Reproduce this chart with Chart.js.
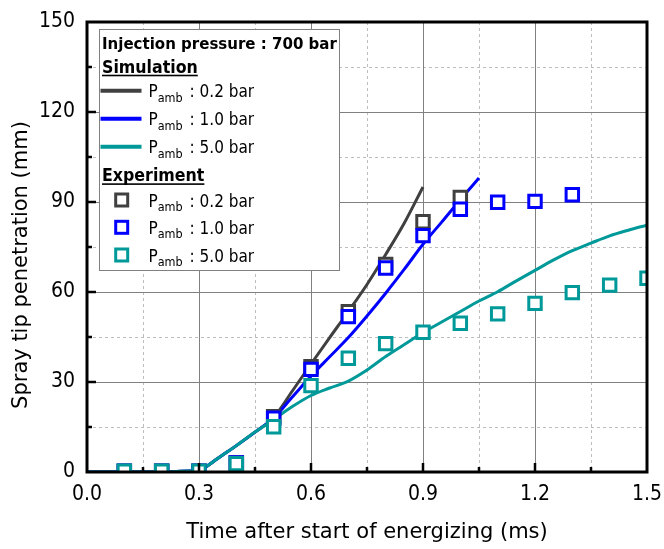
<!DOCTYPE html>
<html><head><meta charset="utf-8">
<script src="https://cdn.jsdelivr.net/npm/chart.js@4/dist/chart.umd.min.js"></script>
<style>html,body{margin:0;padding:0;background:#fff}</style>
</head><body>
<canvas id="c" width="664" height="549"></canvas>
<script>
// ---- data ----
const xTicks = [0, 0.3, 0.6, 0.9, 1.2, 1.5];
const yTicks = [0, 30, 60, 90, 120, 150];
const pressures = ['0.2', '1.0', '5.0'];
const seriesColors = ['#404040', '#0000ff', '#009999'];
const legendTitle = 'Injection pressure : 700 bar';
const groupSim = 'Simulation';
const groupExp = 'Experiment';
const xTitle = 'Time after start of energizing (ms)';
const yTitle = 'Spray tip penetration (mm)';

const sim02X = [0, 0.1, 0.2, 0.28, 0.3, 0.32, 0.35, 0.4, 0.45, 0.5, 0.55, 0.6, 0.65, 0.7, 0.75, 0.8, 0.85, 0.9];
const sim02Y = [0, 0, 0, 0.3, 0.3, 1.8, 4.5, 8.8, 13.3, 18.2, 27, 36, 44.8, 53.5, 62.5, 72.5, 83, 95];
const sim10X = [0, 0.1, 0.2, 0.28, 0.3, 0.32, 0.35, 0.4, 0.45, 0.5, 0.55, 0.6, 0.65, 0.7, 0.75, 0.8, 0.85, 0.9, 0.95, 1.0, 1.05];
const sim10Y = [0, 0, 0, 0.3, 0.3, 1.8, 4.5, 8.8, 13.3, 18, 25, 32, 38.4, 44.8, 52, 59.6, 67.6, 75.9, 83.3, 90.8, 98];
const sim50X = [0, 0.1, 0.2, 0.28, 0.3, 0.32, 0.35, 0.4, 0.45, 0.5, 0.55, 0.6, 0.65, 0.7, 0.75, 0.8, 0.85, 0.9, 0.95, 1.0, 1.05, 1.1, 1.15, 1.2, 1.25, 1.3, 1.35, 1.4, 1.45, 1.5];
const sim50Y = [0, 0, 0, 0.3, 0.3, 1.8, 4.5, 8.8, 13.3, 17.5, 21.8, 25.5, 28, 30.3, 34, 38.5, 42.5, 46.5, 50, 53.5, 57, 60.1, 63.7, 67.2, 70.7, 73.8, 76.3, 78.7, 80.6, 82.3];

const exp02X = [0.1, 0.2, 0.3, 0.4, 0.5, 0.6, 0.7, 0.8, 0.9, 1.0];
const exp02Y = [0.3, 0.3, 0.3, 3, 18.4, 35.1, 53.4, 69.2, 83.4, 91.5];
const exp10X = [0.1, 0.2, 0.3, 0.4, 0.5, 0.6, 0.7, 0.8, 0.9, 1.0, 1.1, 1.2, 1.3];
const exp10Y = [0.3, 0.3, 0.3, 3, 17.9, 34.2, 51.8, 68, 78.8, 87.6, 89.9, 90.2, 92.4];
const exp50X = [0.1, 0.2, 0.3, 0.4, 0.5, 0.6, 0.7, 0.8, 0.9, 1.0, 1.1, 1.2, 1.3, 1.4, 1.5];
const exp50Y = [0.3, 0.3, 0.3, 2.8, 15.1, 28.8, 37.9, 42.8, 46.6, 49.6, 52.7, 56.2, 59.8, 62.3, 64.6];

// ---- build ----
const FONT = "'DejaVu Sans Condensed', 'DejaVu Sans', sans-serif";
const TFONT = "'DejaVu Sans', sans-serif";
const pts = (xs, ys) => xs.map((x, i) => ({x, y: ys[i]}));
const simSets = [[sim02X, sim02Y], [sim10X, sim10Y], [sim50X, sim50Y]];
const expSets = [[exp02X, exp02Y], [exp10X, exp10Y], [exp50X, exp50Y]];

const datasets = [];
simSets.forEach((s, i) => datasets.push({
  label: groupSim + ' P_amb : ' + pressures[i] + ' bar',
  data: pts(s[0], s[1]), showLine: true, borderColor: seriesColors[i], borderWidth: 3,
  pointRadius: 0, cubicInterpolationMode: 'monotone', order: 12 - i, clip: 0, fill: false
}));
expSets.forEach((s, i) => datasets.push({
  label: groupExp + ' P_amb : ' + pressures[i] + ' bar',
  data: pts(s[0], s[1]), showLine: false, pointStyle: 'rect', pointRadius: 8.8,
  pointBorderWidth: 3, pointBorderColor: seriesColors[i], pointBackgroundColor: '#ffffff',
  order: 3 - i, clip: 0
}));

const mid = arr => arr.slice(0, -1).map((v, i) => (v + arr[i + 1]) / 2);

const framePlugin = {
  id: 'frame',
  beforeDatasetsDraw(chart) {
    const {ctx, chartArea: a, scales: {x, y}} = chart;
    ctx.save();
    ctx.lineWidth = 1;
    ctx.strokeStyle = '#bdbdbd';
    ctx.setLineDash([3, 3]);
    ctx.beginPath();
    mid(xTicks).forEach(v => { const p = Math.round(x.getPixelForValue(v)) + 0.5; ctx.moveTo(p, a.top); ctx.lineTo(p, a.bottom); });
    mid(yTicks).forEach(v => { const p = Math.round(y.getPixelForValue(v)) + 0.5; ctx.moveTo(a.left, p); ctx.lineTo(a.right, p); });
    ctx.stroke();
    ctx.setLineDash([]);
    ctx.strokeStyle = '#808080';
    ctx.beginPath();
    xTicks.slice(1, -1).forEach(v => { const p = Math.round(x.getPixelForValue(v)) + 0.5; ctx.moveTo(p, a.top); ctx.lineTo(p, a.bottom); });
    yTicks.slice(1, -1).forEach(v => { const p = Math.round(y.getPixelForValue(v)) + 0.5; ctx.moveTo(a.left, p); ctx.lineTo(a.right, p); });
    ctx.stroke();
    ctx.restore();
  },
  afterDatasetsDraw(chart) {
    const {ctx, chartArea: a, scales: {x, y}} = chart;
    ctx.save();
    ctx.strokeStyle = '#000';
    ctx.lineWidth = 2.5;
    ctx.beginPath();
    xTicks.slice(1, -1).forEach(v => { const p = x.getPixelForValue(v); ctx.moveTo(p, a.bottom); ctx.lineTo(p, a.bottom - 9); });
    mid(xTicks).forEach(v => { const p = x.getPixelForValue(v); ctx.moveTo(p, a.bottom); ctx.lineTo(p, a.bottom - 5); });
    yTicks.slice(1, -1).forEach(v => { const p = y.getPixelForValue(v); ctx.moveTo(a.left, p); ctx.lineTo(a.left + 9, p); });
    mid(yTicks).forEach(v => { const p = y.getPixelForValue(v); ctx.moveTo(a.left, p); ctx.lineTo(a.left + 5, p); });
    ctx.stroke();
    ctx.lineWidth = 3;
    ctx.strokeRect(a.left, a.top, a.right - a.left, a.bottom - a.top);
    ctx.restore();
  },
  afterDraw(chart) {
    const {ctx, chartArea: a} = chart;
    ctx.save();
    // axis titles
    ctx.fillStyle = '#000';
    ctx.font = '21px ' + TFONT;
    ctx.textAlign = 'center';
    ctx.textBaseline = 'middle';
    ctx.fillText(xTitle, (a.left + a.right) / 2, 533);
    ctx.translate(22, (a.top + a.bottom) / 2 + 18);
    ctx.rotate(-Math.PI / 2);
    ctx.fillText(yTitle, 0, 0);
    ctx.restore();

    // legend
    ctx.save();
    const bx = 99.5, by = 29.5, bw = 240, bh = 241;
    ctx.fillStyle = '#fff';
    ctx.fillRect(bx, by, bw, bh);
    ctx.strokeStyle = '#808080';
    ctx.lineWidth = 1;
    ctx.strokeRect(bx, by, bw, bh);
    ctx.fillStyle = '#000';
    ctx.textAlign = 'left';
    ctx.textBaseline = 'alphabetic';
    ctx.font = 'bold 16.7px ' + FONT;
    ctx.fillText(legendTitle, 102, 48.5);
    const heading = (t, yb) => {
      ctx.font = 'bold 17.6px ' + FONT;
      ctx.fillText(t, 102, yb);
      const w = ctx.measureText(t).width;
      ctx.fillRect(102, yb + 2, w, 1.6);
    };
    const entry = (p, yb) => {
      ctx.font = '17px ' + FONT;
      let xx = 148.5;
      ctx.fillText('P', xx, yb);
      xx += ctx.measureText('P').width;
      ctx.font = '12.5px ' + FONT;
      ctx.fillText('amb', xx, yb + 4.4);
      xx += ctx.measureText('amb').width;
      ctx.font = '17px ' + FONT;
      ctx.fillText(' : ' + p + ' bar', xx + 2, yb);
    };
    heading(groupSim, 72.7);
    const simRows = [90.7, 118.7, 146.7];
    simRows.forEach((cy, i) => {
      ctx.strokeStyle = seriesColors[i];
      ctx.lineWidth = 4;
      ctx.beginPath(); ctx.moveTo(100.5, cy); ctx.lineTo(141.5, cy); ctx.stroke();
      entry(pressures[i], cy + 6.6);
    });
    heading(groupExp, 181.3);
    const expRows = [200, 227.3, 255];
    expRows.forEach((cy, i) => {
      ctx.strokeStyle = seriesColors[i];
      ctx.lineWidth = 3;
      ctx.fillStyle = '#fff';
      ctx.fillRect(115.7, cy - 6, 12, 12);
      ctx.strokeRect(115.7, cy - 6, 12, 12);
      ctx.fillStyle = '#000';
      entry(pressures[i], cy + 6.6);
    });
    ctx.restore();
  }
};

new Chart(document.getElementById('c'), {
  type: 'scatter',
  data: {datasets},
  options: {
    responsive: false, animation: false, devicePixelRatio: 1,
    layout: {padding: {left: 0, right: 17, top: 22, bottom: 0}},
    plugins: {legend: {display: false}, tooltip: {enabled: false}},
    scales: {
      x: {
        type: 'linear', min: 0, max: 1.5,
        afterBuildTicks: s => { s.ticks = xTicks.map(v => ({value: v})); },
        afterFit: s => { s.height = 77; s.paddingLeft = 0; s.paddingRight = 0; },
        grid: {display: false, drawTicks: false}, border: {display: false},
        ticks: {callback: v => v.toFixed(1), color: '#000', font: {family: FONT, size: 21}, padding: 10, maxRotation: 0, autoSkip: false}
      },
      y: {
        type: 'linear', min: 0, max: 150,
        afterBuildTicks: s => { s.ticks = yTicks.map(v => ({value: v})); },
        afterFit: s => { s.width = 87; s.paddingTop = 0; s.paddingBottom = 0; },
        grid: {display: false, drawTicks: false}, border: {display: false},
        ticks: {callback: v => String(v), color: '#000', font: {family: FONT, size: 21}, padding: 12, autoSkip: false}
      }
    }
  },
  plugins: [framePlugin]
});
</script>
</body></html>
